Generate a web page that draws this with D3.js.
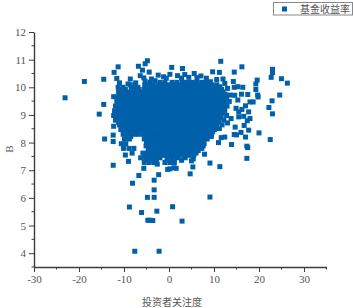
<!DOCTYPE html>
<html><head><meta charset="utf-8">
<script src="https://cdn.jsdelivr.net/npm/d3@7"></script>
<style>html,body{margin:0;padding:0;background:#fff}svg{display:block}</style>
</head><body><svg id="c" width="353" height="308"></svg>
<script>
const seriesName = "基金收益率";
const xTitle = "投资者关注度";
const yTitle = "B";
const xTicks = [-30,-20,-10,0,10,20,30];
const xMinor = [-25,-15,-5,5,15,25,35];
const yTicks = [4,5,6,7,8,9,10,11,12];
const yMinor = [3.5,4.5,5.5,6.5,7.5,8.5,9.5,10.5,11.5];
const outliers = [
[-23.1,9.62],[-18.8,10.21],[-14.5,10.29],[-14.5,9.38],[-15.5,9.03],[-14.3,8.13],[-12.4,8.27],[-12.4,8.04],[-12.3,8.59],
[-11.3,10.74],[-12.2,10.54],[-6.8,10.76],[-5.3,10.85],[-4.8,10.96],[-4.4,10.55],[0.6,10.72],[-5.9,10.62],
[11.5,10.94],[16.2,10.74],[3,10.68],[9.7,10.56],[11.2,10.54],[14.5,10.55],[23,10.65],[23,10.53],[22.7,10.36],[25,10.31],[26.3,10.15],
[19.6,10.26],[19.3,10.12],[19.3,9.92],[19.7,9.72],[19.8,9.65],[24.6,9.72],[22.9,9.51],[22.2,9.27],[23,9.04],[20,8.35],[22.5,8.11],[17.3,7.87],[17.5,7.82],
[14.3,10.21],[14.5,10],[15.3,10.02],[16.4,10],[16.1,9.75],[17.5,9.74],[18,9.47],[18.7,9.47],[17,9.33],[17.7,9.11],[18,8.87],[17.4,8.79],[16.7,8.62],[17.7,8.45],[17,8.2],[16,8.37],
[14.7,8.56],[14.5,8.29],[13.9,7.93],[11.2,8.51],[11.6,8.18],[11,8],[14.9,9.24],[15.5,9.11],[15.5,8.93],[13.8,8.87],[13,8.71],[15.3,9.54],[13.6,9.72],[14.6,9.71],[16.2,9.2],[16.6,8.95],[15,8.28],[12.4,8.2],
[-12.4,7.18],[-9,7.32],[-6.7,6.81],[-8.1,6.53],[-2.3,6.84],[-3.3,6.64],[-3.3,6.29],[-3.3,6.02],[-4.8,6.02],[-8.8,5.67],[-6.1,5.47],[-2.7,5.52],[-4.7,5.19],[-3.6,5.18],[-4.2,5.19],[0.8,5.68],[-7.6,4.07],[-2.2,4.07],
[-0.3,7.03],[0.2,7.05],[1.1,7.09],[-2.6,7.22],[-5.6,7.07],[-9.7,7.55],[17.3,7.43],[9.1,7.26],[11.3,7.13],[5.3,7.12],[4.7,6.87],[9.1,6.03],[2.9,5.16],[2.8,7.36],[5,7.34],[5.4,7.41],[1.6,7.07],[7.9,7.58],
[-11.6,10.32],[-8.6,10.3],[-6.4,10.42],[-5.6,10.34],[-3.9,10.3],[-2.4,10.44],[-1.2,10.38],[0.2,10.47],[1.9,10.42],[3.5,10.46],[5.6,10.5],[7.1,10.41],[8.3,10.33],[10.6,10.28],[12,10.3],[4.4,10.36],[-0.6,10.33],[2.8,10.33],[6.2,10.35],
[-11,10.16],[-9.1,10.12],[-7.4,10.16],[-5.3,10.22],[-3.1,10.24],[9.2,10.2],[12.4,10.14],[11.3,10.02],[13,9.96]
];
const cloudRows = [
[10.18,[-4.2,-2,-0.9,0.7,1.8,3,4.1,5.2,6.3,7.4,8.2]],
[10.0,[-11.3,-10.2,-8.4,-6.9,-5.1,-4,-3,-1.9,-0.8,0.3,1.4,2.5,3.6,4.7,5.8,6.9,8,9.1,10.2]],
[9.83,[-11.2,-10.1,-9,-7.4,-6.3,-5.2,-4.2,-3.1,-2,-0.9,0.2,1.3,2.3,3.4,4.5,5.5,6.6,7.7,8.8,9.8,10.9,12]],
[9.66,[-12.3,-11.4,-10.3,-9.2,-8.1,-7,-5.9,-4.8,-3.7,-2.6,-1.5,-0.5,0.6,1.7,2.8,3.9,5,6.1,7.2,8.2,9.3,10.4,11.5,12.6]],
[9.49,[-11.6,-10.6,-9.5,-8.4,-7.3,-6.2,-5.2,-4.1,-3,-1.9,-0.8,0.3,1.3,2.4,3.5,4.6,5.7,6.8,7.8,8.9,10,11.1,12.2,13.4]],
[9.32,[-11.9,-10.9,-9.8,-8.7,-7.6,-6.5,-5.4,-4.3,-3.3,-2.2,-1.1,0,1,2.1,3.2,4.3,5.4,6.5,7.5,8.6,9.7,10.8,11.8,12.9]],
[9.15,[-12.1,-11.2,-10.4,-9.3,-8.3,-7.2,-6.1,-5,-3.9,-2.8,-1.7,-0.7,0.4,1.5,2.6,3.7,4.8,5.9,6.9,8,9.1,10.2,11.3,12.4]],
[8.98,[-12.3,-11.2,-10.1,-9,-7.9,-6.9,-5.8,-4.7,-3.6,-2.5,-1.4,-0.4,0.7,1.8,2.9,4,5.1,6.1,7.2,8.3,9.4,10.5,11.6,12.8]],
[8.81,[-11.9,-10.8,-9.7,-8.7,-7.6,-6.5,-5.4,-4.3,-3.2,-2.2,-1.1,0,1.1,2.2,3.3,4.3,5.4,6.5,7.6,8.7,9.8,10.9,12.2]],
[8.64,[-11,-9.9,-8.9,-7.8,-6.7,-5.6,-4.5,-3.5,-2.4,-1.3,-0.2,0.8,1.9,3,4.1,5.2,6.3,7.3,8.4,9.5,10.6,11.8]],
[8.47,[-10.7,-9.4,-8.3,-7.2,-6.1,-5.1,-4,-2.9,-1.8,-0.7,0.3,1.4,2.5,3.6,4.7,5.7,6.8,7.9,9,10.1]],
[8.3,[-10.2,-9,-7.8,-6.8,-5.7,-4.6,-3.5,-2.5,-1.4,-0.3,0.8,1.9,3,4,5.1,6.2,7.3,8.4,9.4]],
[8.13,[-9.9,-8.8,-5.5,-4.4,-3.3,-2.2,-1.2,-0.1,1,2.1,3.2,4.2,5.3,6.4,7.5,8.5]],
[7.96,[-10.6,-9.6,-4.9,-4.1,-3,-1.9,-0.8,0.2,1.3,2.4,3.5,4.6,5.6,6.7,7.8]],
[7.79,[-10.1,-8.9,-7.8,-4.6,-3.5,-2.4,-1.3,-0.3,0.8,1.9,3,4.1,5.1,6.2,7.3]],
[7.62,[-8.2,-5.8,-4.8,-3.7,-2.6,-1.6,-0.5,0.6,1.7,2.8,3.8,4.9,6]],
[7.45,[-6.3,-5.2,-4.1,-3,-2,-0.4,0.7,1.8,3.6]],
[7.28,[-5.5,-4.4,-3.3,-0.9,0.2,1.2]]
];
const fillRows = [
[10.09,[-8.6,-7.5,-5.4,-4.4,-3.5,-2.4,-1.3,-0.3,0.9,2,3,4.1,5.3,6.3,7.4,8.5,9.5,10.6]],
[9.92,[-10.9,-9.7,-7.9,-6.8,-5.6,-4.6,-3.5,-2.5,-1.4,-0.3,0.8,1.9,3,4.1,5.2,6.3,7.4,8.5,9.6,10.6,11.7]],
[9.75,[-11,-9.9,-8.7,-7.7,-6.6,-5.5,-4.5,-3.4,-2.3,-1.2,-0.1,1,2,3.1,4.2,5.3,6.4,7.4,8.5,9.6,10.7,11.8,12.5]],
[9.58,[-11.1,-10,-8.9,-7.8,-6.7,-5.7,-4.6,-3.5,-2.4,-1.3,-0.2,0.8,1.9,3,4.1,5.2,6.3,7.3,8.4,9.5,10.6,11.7,12.8]],
[9.41,[-11.3,-10.2,-9,-7.9,-6.9,-5.8,-4.7,-3.6,-2.5,-1.5,-0.4,0.7,1.8,2.9,4,5,6.1,7.2,8.3,9.4,10.5,11.5,12.7]],
[9.24,[-11.4,-10.3,-9.2,-8.1,-7,-6,-4.9,-3.8,-2.7,-1.6,-0.6,0.5,1.6,2.7,3.8,4.8,5.9,7,8.1,9.2,10.3,11.3,12.3]],
[9.07,[-11.6,-10.6,-9.5,-8.5,-7.4,-6.3,-5.3,-4.2,-3.1,-2,-0.9,0.2,1.2,2.3,3.4,4.5,5.6,6.6,7.7,8.8,9.9,11,11.9]],
[8.9,[-11.4,-10.3,-9.2,-8.2,-7.1,-6,-4.9,-3.8,-2.7,-1.7,-0.6,0.5,1.6,2.7,3.8,4.9,5.9,7,8.1,9.2,10.3,11.4]],
[8.73,[-11.2,-10.2,-9.1,-8,-6.9,-5.9,-4.8,-3.7,-2.6,-1.5,-0.4,0.6,1.7,2.8,3.9,5,6.1,7.1,8.2,9.3,10.4,11.1]],
[8.56,[-10.4,-9.4,-8.3,-7.2,-6.2,-5.1,-4,-2.9,-1.8,-0.8,0.3,1.4,2.5,3.6,4.6,5.7,6.8,7.9,9,10,10.6]],
[8.39,[-10.1,-8.9,-7.8,-6.7,-5.6,-4.5,-3.4,-2.4,-1.3,-0.2,0.9,2,3,4.1,5.2,6.3,7.4,8.5,9.7]],
[8.22,[-9.5,-8.5,-5.3,-4.2,-3.1,-2,-0.9,0.1,1.2,2.3,3.4,4.5,5.5,6.6,7.7,8.8,9.4]],
[8.05,[-5,-3.9,-2.8,-1.7,-0.7,0.4,1.5,2.6,3.7,4.7,5.8,6.9,7.7]],
[7.88,[-5.1,-4,-3,-1.9,-0.8,0.3,1.4,2.5,3.6,4.7,5.7,6.8,7.6]],
[7.71,[-4.3,-3.2,-2.1,-1,0.1,1.2,2.2,3.3,4.4,5.5,6.5]],
[7.54,[-5.3,-4.2,-3.1,-2.1,-1,0.1,1.2,2.3,3.3,4.4,5.5]],
[7.37,[-4.9,-3.8,-2.8,-0.4,0.7]]
];
const cloud = cloudRows.concat(fillRows).flatMap(([y, xs]) => xs.map(x => [x, y]));
const points = outliers.concat(cloud);

const blue = "#0060a9", ink = "#3c3c3c", serif = "'Liberation Serif',serif", cjk = "'Noto Sans CJK SC','Noto Sans CJK JP',sans-serif";
const svg = d3.select("#c");
const x = d3.scaleLinear().domain([-30,35]).range([34,326.5]);
const y = d3.scaleLinear().domain([3.5,12]).range([267,32]);

svg.append("g").selectAll("rect").data(points).join("rect")
  .attr("x", d => x(d[0]) - 2.5).attr("y", d => y(d[1]) - 2.5)
  .attr("width", 5).attr("height", 5).attr("fill", blue);

function style(g){
  g.selectAll("path.domain").attr("stroke", ink).attr("stroke-width", 1.4);
  g.selectAll("line").attr("stroke", ink).attr("stroke-width", 1);
  g.selectAll("text").attr("fill", "#555").attr("font-family", serif).attr("font-size", 11);
}
const gx = svg.append("g").attr("transform", "translate(0,267)");
gx.call(d3.axisBottom(x).tickValues(xTicks).tickSize(5).tickPadding(3).tickFormat(d3.format("d")).tickSizeOuter(0)).call(style);
gx.selectAll("text").text(d => d < 0 ? "-" + Math.abs(d) : d);
gx.append("g").selectAll("line").data(xMinor).join("line")
  .attr("x1", d => x(d)).attr("x2", d => x(d)).attr("y1", 0).attr("y2", 2.5).attr("stroke", ink);
const gy = svg.append("g").attr("transform", "translate(34,0)");
gy.call(d3.axisLeft(y).tickValues(yTicks).tickSize(5).tickPadding(3).tickFormat(d3.format("d")).tickSizeOuter(0)).call(style);
gy.append("g").selectAll("line").data(yMinor).join("line")
  .attr("y1", d => y(d)).attr("y2", d => y(d)).attr("x1", 0).attr("x2", -2.5).attr("stroke", ink);

svg.append("text").attr("x", 172).attr("y", 306).attr("text-anchor", "middle")
  .attr("font-family", cjk).attr("font-size", 10).attr("fill", "#555").text(xTitle);
svg.append("text").attr("transform", "translate(13,149) rotate(-90)").attr("text-anchor", "middle")
  .attr("font-family", serif).attr("font-size", 11).attr("fill", "#555").text(yTitle);

const lg = svg.append("g");
lg.append("rect").attr("x", 273.5).attr("y", 2.5).attr("width", 79).attr("height", 12.5)
  .attr("fill", "#fff").attr("stroke", "#888").attr("stroke-width", 1);
lg.append("rect").attr("x", 282).attr("y", 6.5).attr("width", 5).attr("height", 5).attr("fill", blue);
lg.append("text").attr("x", 300).attr("y", 13).attr("font-family", cjk).attr("font-size", 10)
  .attr("fill", "#555").text(seriesName);
</script></body></html>
